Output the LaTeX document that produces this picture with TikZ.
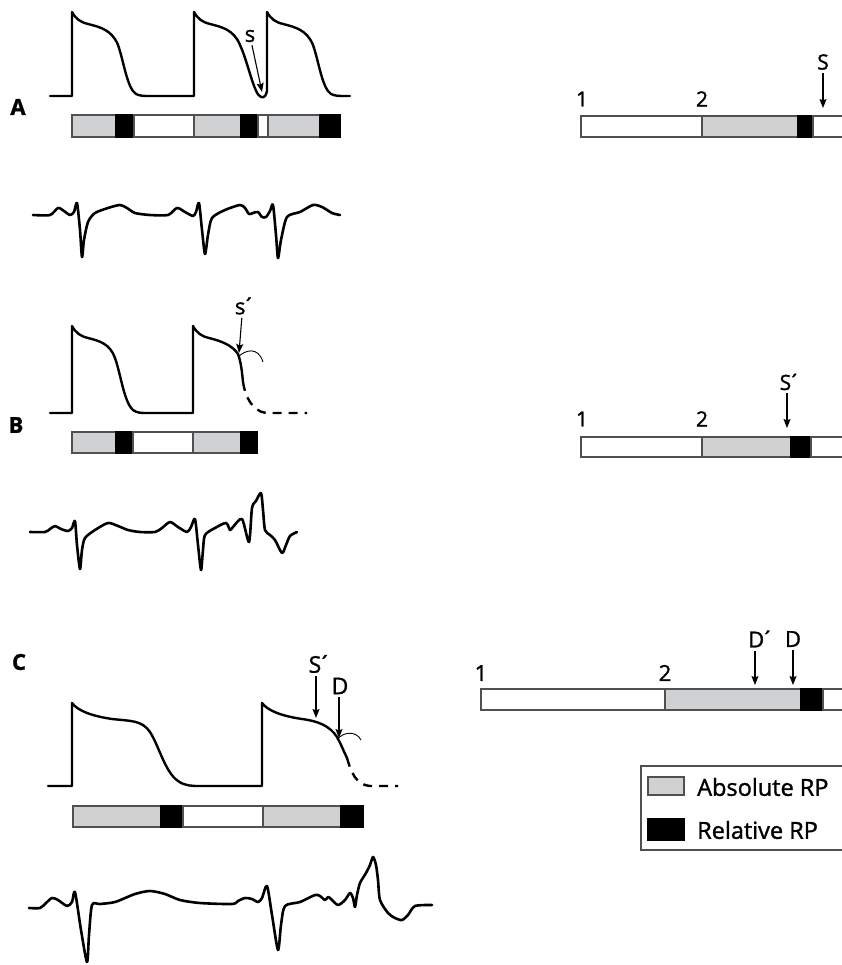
\documentclass[tikz,border=0pt]{standalone}
\usepackage{fontspec}
\setmainfont{Open Sans}[RawFeature={embolden=1.3}]
\usetikzlibrary{arrows.meta}
\definecolor{apgray}{RGB}{208,209,211}
\definecolor{edgecol}{RGB}{80,80,80}
\newcommand{\fsz}[1]{\fontsize{#1}{#1}\selectfont}
\newcommand{\acu}{\kern-0.14em´}
\begin{document}
\begin{tikzpicture}[x=1pt,y=-1pt,
  ap/.style={line width=2.4pt, line join=round, line cap=round},
  apdash/.style={line width=2.4pt, dash pattern=on 9pt off 7pt},
  ecg/.style={line width=2.6pt, line join=round, line cap=round},
  thinarc/.style={line width=0.9pt},
  arr/.style={line width=1.1pt, shorten <=2pt, -{Stealth[length=9pt,width=7pt,inset=1.5pt]}},
  absbox/.style={fill=apgray, draw=edgecol, line width=1.2pt},
  relbox/.style={fill=black, draw=black, line width=1.2pt},
  whtbox/.style={fill=white, draw=edgecol, line width=1.2pt},
  lbl/.style={inner sep=1pt},
  panel/.style={inner sep=1pt, font=\fsz{22}\bfseries},
  num/.style={inner sep=1pt, font=\fsz{21}}]
\clip (0,0) rectangle (842,965);
\fill[white] (0,0) rectangle (842,965);

% ================= Panel A =================
\node[panel] (pA) at (18,107) {A};
\draw[ap] (50,96) -- (72,96) -- (72,12)
  .. controls (76,19) and (80,22) .. (88,24)
  .. controls (100,27) and (112,30) .. (118,45)
  .. controls (124,62) and (127,88) .. (136,94)
  .. controls (140,96) and (144,96) .. (150,96) -- (194,96) -- (194,12)
  .. controls (198,19) and (202,22) .. (210,24)
  .. controls (222,27) and (234,30) .. (240,45)
  .. controls (248,62) and (254,95) .. (261,97)
  .. controls (264,98) and (266,96) .. (267,91) -- (267,12)
  .. controls (271,19) and (275,22) .. (283,24)
  .. controls (295,27) and (307,30) .. (313,45)
  .. controls (319,62) and (322,88) .. (331,94)
  .. controls (335,96) and (339,96) .. (345,96) -- (350,96);
\node[lbl, font=\fsz{22}] (sA) at (250,36) {s};
\coordinate (sAt) at (262,92);
\draw[arr] (sA) -- (sAt);
% bar A left
\draw[absbox] (72,115) rectangle (116,137);
\draw[relbox] (116,115) rectangle (134,137);
\draw[whtbox] (134,115) rectangle (194,137);
\draw[absbox] (194,115) rectangle (241,137);
\draw[relbox] (241,115) rectangle (258,137);
\draw[whtbox] (258,115) rectangle (268,137);
\draw[absbox] (268,115) rectangle (320,137);
\draw[relbox] (320,115) rectangle (340,137);
% ECG A
\draw[ecg] plot[smooth, tension=0.45] coordinates {
 (33,215) (50,215) (58,208) (64,211) (70,215) (74,212) (77,203) (80,230) (82,257)
 (84,240) (88,222) (95,213) (108,208) (120,205) (127,208) (135,213) (150,215)
 (168,215) (177,208) (185,212) (193,216) (196,212) (199,203) (202,230) (205,254)
 (208,235) (212,218) (225,210) (240,205) (245,208) (249,214) (253,213) (258,212)
 (262,217) (266,217) (270,211) (273,205) (276,235) (278,258) (281,240) (287,217)
 (300,212) (313,205) (322,207) (332,213) (340,215)};
% bar A right
\node[num] (n1A) at (582,99) {1};
\node[num] (n2A) at (702,99) {2};
\draw[whtbox] (581,116) rectangle (702,137);
\draw[absbox] (702,116) rectangle (798,137);
\draw[relbox] (798,116) rectangle (813,137);
\draw[whtbox] (813,116) rectangle (850,137);
\node[lbl, font=\fsz{21}] (SA) at (823,62) {S};
\coordinate (SAt) at (823,108);
\draw[arr] (SA) -- (SAt);

% ================= Panel B =================
\node[panel] (pB) at (16,425) {B};
\draw[ap] (50,413) -- (72,413) -- (72,326)
  .. controls (76,333) and (80,336) .. (88,338)
  .. controls (100,341) and (110,344) .. (115,358)
  .. controls (121,375) and (124,402) .. (133,410)
  .. controls (137,413) and (141,413) .. (147,413) -- (193,413) -- (193,326)
  .. controls (197,333) and (201,336) .. (209,338)
  .. controls (221,341) and (232,345) .. (238,354)
  .. controls (241,362) and (242,372) .. (243,382);
\draw[apdash] (243,382) .. controls (245,396) and (252,411) .. (266,413) -- (307,413);
\draw[thinarc] (238,357) .. controls (245,350) and (258,346) .. (263,362);
\node[lbl, font=\fsz{22}] (sB) at (245,306) {s\acu};
\coordinate (sBt) at (239,353);
\draw[arr] (sB.south -| 242,0) -- (sBt);
% bar B left
\draw[absbox] (72,432) rectangle (116,453);
\draw[relbox] (116,432) rectangle (133,453);
\draw[whtbox] (133,432) rectangle (193,453);
\draw[absbox] (193,432) rectangle (241,453);
\draw[relbox] (241,432) rectangle (257,453);
% ECG B
\draw[ecg] plot[smooth, tension=0.45] coordinates {
 (30,532) (45,532) (50,529) (55,526) (61,529) (68,531) (72,528) (75,521) (77,545)
 (80,569) (82,550) (85,538) (95,530) (108,523) (118,526) (128,530) (140,532)
 (155,532) (162,528) (170,522) (178,527) (187,532) (191,527) (195,519) (198,545)
 (201,570) (203,550) (205,535) (215,528) (226,523) (230,530) (233,527) (242,519)
 (249,542) (252,508) (256,501) (261,493) (263,510) (265,530) (270,535) (275,540)
 (282,553) (286,545) (290,536) (297,532)};
% bar B right
\node[num] (n1B) at (582,419) {1};
\node[num] (n2B) at (702,419) {2};
\draw[whtbox] (581,437) rectangle (702,457);
\draw[absbox] (702,437) rectangle (791,457);
\draw[relbox] (791,437) rectangle (811,457);
\draw[whtbox] (811,437) rectangle (850,457);
\node[lbl, font=\fsz{21}] (SB) at (790,382) {S\acu};
\coordinate (SBt) at (787,428);
\draw[arr] (SB.south -| SBt) -- (SBt);

% ================= Panel C =================
\node[panel] (pC) at (19,662) {C};
\draw[ap] (48,786) -- (72,786) -- (72,703)
  .. controls (78,711) and (92,716) .. (112,719)
  .. controls (130,721) and (142,720) .. (150,732)
  .. controls (159,746) and (165,772) .. (178,781)
  .. controls (185,786) and (192,786) .. (200,786) -- (262,786) -- (262,703)
  .. controls (268,711) and (282,716) .. (302,719)
  .. controls (318,721) and (330,726) .. (337,737)
  .. controls (341,744) and (344,752) .. (347,758);
\draw[apdash] (347,758) .. controls (351,772) and (356,785) .. (370,786) -- (398,786);
\draw[thinarc] (337,740) .. controls (342,732) and (356,730) .. (361,740);
\node[lbl, font=\fsz{23}] (SC) at (320,664) {S\acu};
\coordinate (SCt) at (316,718);
\draw[arr] (SC.south -| SCt) -- (SCt);
\node[lbl, font=\fsz{23}] (DC) at (340,686) {D};
\coordinate (DCt) at (339,738);
\draw[arr] (DC.south -| DCt) -- (DCt);
% bar C left
\draw[absbox] (73,806) rectangle (161,827);
\draw[relbox] (161,806) rectangle (183,827);
\draw[whtbox] (183,806) rectangle (263,827);
\draw[absbox] (263,806) rectangle (341,827);
\draw[relbox] (341,806) rectangle (363,827);
% ECG C
\draw[ecg] plot[smooth, tension=0.45] coordinates {
 (29,908) (40,908) (46,903) (52,898) (58,900) (67,906) (72,902) (75,892) (81,930)
 (87,962) (89,935) (92,905) (100,904) (115,902) (135,894) (150,891) (165,894)
 (180,900) (200,903) (232,904) (238,901) (245,898) (252,899) (258,902) (262,898)
 (267,886) (272,915) (278,950) (281,925) (285,906) (300,902) (315,895) (320,896)
 (325,900) (328,897) (331,899) (338,905) (345,900) (350,893) (353,898) (355,907)
 (357,895) (360,883) (366,873) (370,865) (373,857) (376,865) (378,880) (380,900)
 (388,913) (395,918) (402,920) (408,915) (415,906) (432,905)};
% bar C right
\node[num, font=\fsz{22}] (n1C) at (481,673) {1};
\node[num, font=\fsz{22}] (n2C) at (665,673) {2};
\draw[whtbox] (481,689) rectangle (665,710);
\draw[absbox] (665,689) rectangle (801,710);
\draw[relbox] (801,689) rectangle (823,710);
\draw[whtbox] (823,689) rectangle (850,710);
\node[lbl, font=\fsz{22}] (DpC) at (761,639) {D\acu};
\coordinate (DpCt) at (755,685);
\draw[arr] (DpC.south -| DpCt) -- (DpCt);
\node[lbl, font=\fsz{22}] (DrC) at (793,639) {D};
\coordinate (DrCt) at (793,685);
\draw[arr] (DrC.south -| DrCt) -- (DrCt);

% ================= Legend =================
\draw[draw=edgecol, line width=1.2pt] (641,766) rectangle (850,850);
\draw[absbox] (648,777) rectangle (684,795);
\draw[relbox] (648,819) rectangle (684,840);
\node[lbl, anchor=west, font=\fsz{23.5}] (legA) at (696,787) {Absolute RP};
\node[lbl, anchor=west, font=\fsz{23.5}] (legR) at (696,830) {Relative RP};
\end{tikzpicture}
\end{document}
